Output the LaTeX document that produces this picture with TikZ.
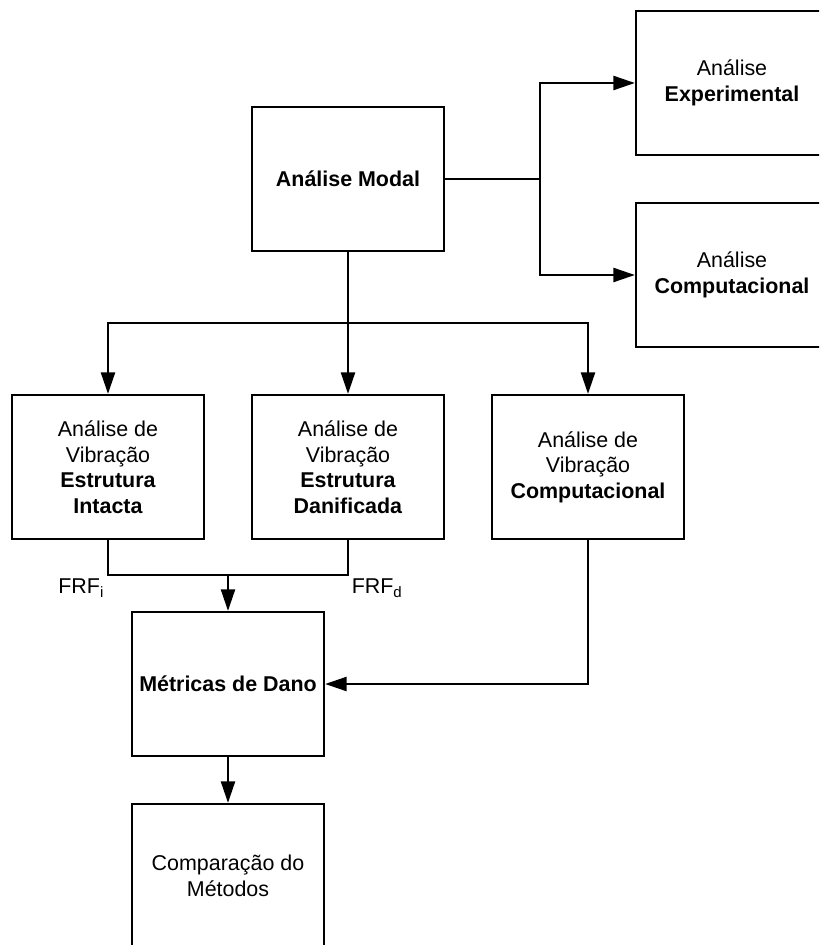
\documentclass[tikz,border=0pt]{standalone}
\usepackage{fontspec}
\setmainfont{Liberation Sans}
\usetikzlibrary{arrows.meta}

\tikzset{
	box/.style = {draw, line width = 1.3pt, minimum width = 3.84cm, minimum height = 2.88cm,
		inner sep = 0pt, align = center, font = \fontsize{12.2}{14.5}\selectfont},
	link/.style = {line width = 1.3pt},
	flow/.style = {link, -{Triangle[length = 4.3mm, width = 2.8mm]}},
	frf/.style = {inner sep = 1.5pt, font = \fontsize{12.2}{14.5}\selectfont}
}

\begin{document}
\begin{tikzpicture}[x = 0.02cm, y = -0.02cm]

	\useasboundingbox (0, 0) rectangle (819, 945);
	\clip (0, 0) rectangle (819, 945);

	% Modal analysis and its two branches

	\node [box] (modal) at (348, 179) {\textbf{Análise Modal}};
	\node [box] (exper) at (732, 83) {Análise\\\textbf{Experimental}};
	\node [box] (compu) at (732, 275) {Análise\\\textbf{Computacional}};

	\coordinate (split) at (540, 179);
	\draw [link] (modal) -- (split);
	\draw [flow] (split) |- (exper);
	\draw [flow] (split) |- (compu);

	% Vibration analyses

	\node [box] (intacta) at (108, 467) {Análise de\\Vibração\\\textbf{Estrutura}\\\textbf{Intacta}};
	\node [box] (danif) at (348, 467) {Análise de\\Vibração\\\textbf{Estrutura}\\\textbf{Danificada}};
	\node [box] (vibcomp) at (588, 467) {Análise de\\Vibração\\\textbf{Computacional}};

	\coordinate (fork) at (348, 323);
	\draw [flow] (modal) -- (danif);
	\draw [flow] (fork) -| (intacta);
	\draw [flow] (fork) -| (vibcomp);

	% Damage metrics from the two FRFs and the computational model

	\node [box] (metricas) at (228, 684) {\textbf{Métricas de Dano}};
	\node [box] (compar) at (228, 876) {Comparação do\\Métodos};

	\coordinate (join) at (228, 575);
	\draw [link] (intacta) |- (join) node [frf, pos = 0.5, below left] (frfi) {FRF\textsubscript{i}};
	\draw [link] (danif) |- (join) node [frf, pos = 0.5, below right] (frfd) {FRF\textsubscript{d}};
	\draw [flow] (join) -- (metricas);
	\draw [flow] (vibcomp) |- (metricas);
	\draw [flow] (metricas) -- (compar);

\end{tikzpicture}
\end{document}
